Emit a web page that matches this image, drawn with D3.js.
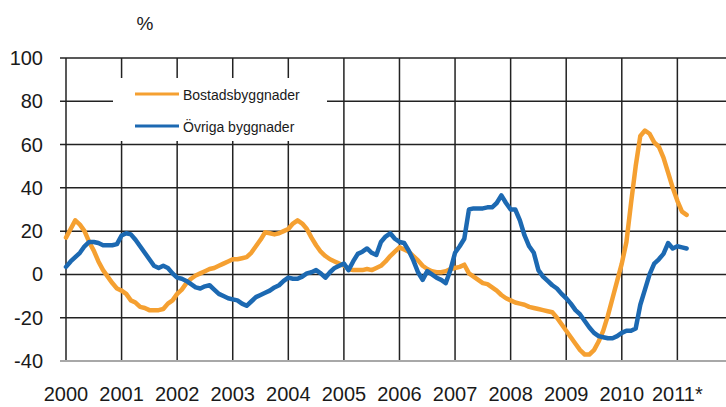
<!DOCTYPE html>
<html>
<head>
<meta charset="utf-8">
<script src="https://cdn.jsdelivr.net/npm/d3@7"></script>
<style>
  body { margin: 0; background: #fff; }
  text { font-family: "Liberation Sans", Arial, sans-serif; fill: #1a1a1a; }
</style>
</head>
<body>
<svg id="chart" width="726" height="407"></svg>
<script>
// monthly values, Jan 2000 .. Mar 2011
var startYear = 2000;
var bostad = [17, 21, 25, 23, 20, 15, 11, 6, 2, -1, -4, -6.5,
  -7.5, -9, -12, -13, -15, -15.5, -16.5, -16.5, -16.5, -16, -13.5, -12,
  -9, -7, -4, -2, -0.5, 0.5, 1.5, 2.5, 3, 4, 5, 6,
  7, 7, 7.5, 8, 10, 13, 16, 19.5, 19, 18.5, 19, 20,
  21, 23.5, 25, 23.5, 21, 17, 13.5, 10.5, 8.5, 7, 6, 5,
  4, 2.5, 2, 2, 2, 2.5, 2, 3, 4, 6, 8.5, 10.5,
  12.5, 11.5, 10.5, 8.5, 6.5, 4, 2.5, 1.5, 1, 1, 1.5, 2.5,
  3, 3.5, 4.5, 0.5, -1, -2.5, -4, -4.5, -6, -7.5, -9.5, -11,
  -12, -13, -13.5, -14, -15, -15.5, -16, -16.5, -17, -17.5, -20, -23,
  -26, -29, -32, -35, -37, -37, -35, -31, -26, -19, -11, -3,
  5, 15, 33, 50, 64, 66.5, 65, 61, 59, 54, 47, 40,
  34, 29, 27.5];
var ovriga = [3.5, 6, 8, 10, 13, 15, 15, 14.5, 13.5, 13.5, 13.5, 14,
  18, 19, 18.5, 16, 13, 10, 7, 4, 3, 4, 3, 0.5,
  -1.5, -2, -3, -4.5, -6, -6.5, -5.5, -5, -7, -9, -10, -11,
  -11.5, -12, -13.5, -14.5, -12.5, -10.5, -9.5, -8.5, -7.5, -6, -5, -3,
  -1.5, -2, -2, -1, 0.5, 1, 2, 0.5, -1.5, 1, 3, 4,
  5, 2, 6, 9.5, 10.5, 12, 10, 9, 15, 17.5, 19, 16.5,
  15, 14.5, 11, 6.5, 1, -2.5, 1.5, 0, -1.5, -2.5, -4, 2,
  10, 13, 16.5, 30, 30.5, 30.5, 30.5, 31, 31, 33, 36.5, 33,
  30, 30, 25, 18, 13, 10, 2, -1, -3, -5, -6.5, -9,
  -11, -13.5, -16.5, -18.5, -21.5, -24.5, -27, -28.5, -29, -29.5, -29.5, -28.5,
  -27, -26, -26, -25, -14, -7, 0, 5, 7, 9.5, 14.5, 12,
  13, 12.5, 12];
var seriesNames = ["Bostadsbyggnader", "Övriga byggnader"];
var seriesColors = ["#f5a031", "#1c69b2"];
var yearTicks = [2000, 2001, 2002, 2003, 2004, 2005, 2006, 2007, 2008, 2009, 2010, 2011];
var yearLabels = ["2000", "2001", "2002", "2003", "2004", "2005", "2006", "2007", "2008", "2009", "2010", "2011*"];
var yTicks = [-40, -20, 0, 20, 40, 60, 80, 100];

function drawChart(svg){
  var plotLeft = 66, plotRight = 726, plotTop = 58, plotBottom = 361;

  var x = d3.scaleLinear().domain([2000, 2011.875]).range([plotLeft, plotRight]);
  var y = d3.scaleLinear().domain([-40, 100]).range([plotBottom, plotTop]);

  // horizontal grid (with small tick on the left)
  svg.append("g").selectAll("line").data(yTicks.filter(function(d){ return d > -40; }))
    .enter().append("line")
    .attr("x1", plotLeft - 6).attr("x2", plotRight)
    .attr("y1", function(d){ return y(d); }).attr("y2", function(d){ return y(d); })
    .attr("stroke", "#222").attr("stroke-width", 1.5);

  // vertical grid
  svg.append("g").selectAll("line").data(yearTicks)
    .enter().append("line")
    .attr("x1", function(d){ return x(d); }).attr("x2", function(d){ return x(d); })
    .attr("y1", plotTop).attr("y2", plotBottom)
    .attr("stroke", "#222").attr("stroke-width", 1.5);

  // bottom axis line
  svg.append("line")
    .attr("x1", plotLeft - 6).attr("x2", plotRight)
    .attr("y1", plotBottom).attr("y2", plotBottom)
    .attr("stroke", "#a8a8a8").attr("stroke-width", 2);

  // y labels
  svg.append("g").selectAll("text").data(yTicks)
    .enter().append("text")
    .attr("x", 43).attr("y", function(d){ return y(d) + 7; })
    .attr("text-anchor", "end")
    .style("font-size", "20px")
    .text(function(d){ return d; });

  // x labels
  svg.append("g").selectAll("text").data(yearTicks)
    .enter().append("text")
    .attr("x", function(d){ return x(d); }).attr("y", 401)
    .attr("text-anchor", "middle")
    .style("font-size", "20px")
    .text(function(d, i){ return yearLabels[i]; });

  svg.append("text").attr("x", 145).attr("y", 30)
    .attr("text-anchor", "middle").style("font-size", "19px").text("%");

  // legend box (white, hides grid behind)
  svg.append("rect").attr("x", 113).attr("y", 78).attr("width", 214).attr("height", 63)
    .attr("fill", "#fff");

  var legend = svg.append("g").selectAll("g").data(seriesNames).enter().append("g")
    .attr("transform", function(d, i){ return "translate(0," + (94 + i * 32) + ")"; });
  legend.append("line").attr("x1", 135).attr("x2", 179)
    .attr("stroke", function(d, i){ return seriesColors[i]; }).attr("stroke-width", 3);
  legend.append("text").attr("x", 183).attr("y", 6)
    .style("font-size", "14px").text(function(d){ return d; });

  // series lines
  var line = d3.line()
    .x(function(d, i){ return x(startYear + i / 12); })
    .y(function(d){ return y(d); });

  [bostad, ovriga].forEach(function(vals, k){
    svg.append("path").datum(vals)
      .attr("d", line)
      .attr("fill", "none")
      .attr("stroke", seriesColors[k])
      .attr("stroke-width", 4.5)
      .attr("stroke-linejoin", "round")
      .attr("stroke-linecap", "round");
  });
}

drawChart(d3.select("#chart"));
</script>
</body>
</html>
